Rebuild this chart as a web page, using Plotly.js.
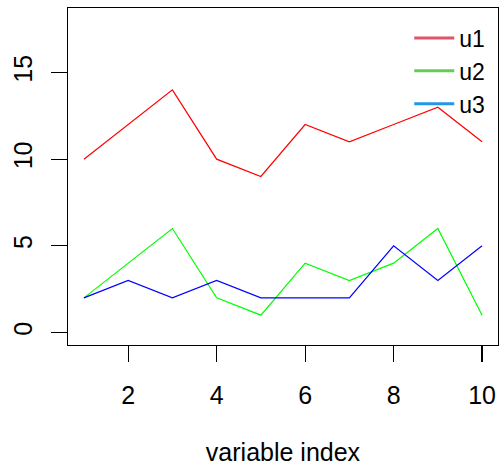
<!DOCTYPE html>
<html><head><meta charset="utf-8">
<script src="https://cdn.plot.ly/plotly-3.0.1.min.js"></script>
<style>html,body{margin:0;padding:0;background:#fff}#chart{width:499px;height:466px}</style>
</head><body><div id="chart"></div>
<script>
const xIndex = [1,2,3,4,5,6,7,8,9,10];
const u1 = [10,12,14,10,9,12,11,12,13,11];
const u2 = [2,4,6,2,1,4,3,4,6,1];
const u3 = [2,3,2,3,2,2,2,5,3,5];
const seriesNames = ['u1','u2','u3'];
const lineColors = ['#FF0000','#00FF00','#0000FF'];
const legendColors = ['#DF536B','#61D04F','#2297E6'];
const xTicks = [2,4,6,8,10];
const yTicks = [0,5,10,15];

const series = [u1,u2,u3];
const traces = [];
series.forEach((s,i)=>{
  traces.push({x:xIndex, y:s, type:'scatter', mode:'lines', line:{color:lineColors[i], width:1.2}, showlegend:false, hoverinfo:'skip'});
});
series.forEach((s,i)=>{
  traces.push({x:[null], y:[null], type:'scatter', mode:'lines', name:seriesNames[i], line:{color:legendColors[i], width:3}, showlegend:true});
});

const layout = {
  width:499, height:466,
  margin:{l:68, r:1, t:8, b:121},
  paper_bgcolor:'#fff', plot_bgcolor:'#fff',
  font:{family:'Liberation Sans, Arial, sans-serif', color:'#000', size:25},
  showlegend:true,
  legend:{x:0.982, xanchor:'right', y:0.975, yanchor:'top', bgcolor:'rgba(0,0,0,0)', font:{size:23}, tracegroupgap:0, itemwidth:40},
  xaxis:{range:[0.64,10.36], tickvals:xTicks, ticktext:xTicks.map(String), ticks:'outside', ticklen:16, tickwidth:1.2, tickcolor:'#000',
    showline:true, mirror:true, linecolor:'#000', linewidth:1.2, showgrid:false, zeroline:false,
    tickfont:{size:25}, ticklabelstandoff:12,
    title:{text:'variable index', font:{size:25}, standoff:39}},
  yaxis:{range:[-0.72,18.72], tickvals:yTicks, ticktext:yTicks.map(String), ticks:'outside', ticklen:16, tickwidth:1.2, tickcolor:'#000',
    showline:true, mirror:true, linecolor:'#000', linewidth:1.2, showgrid:false, zeroline:false,
    tickangle:-90, tickfont:{size:25}, ticklabelstandoff:9}
};
Plotly.newPlot('chart', traces, layout, {displayModeBar:false, staticPlot:true});
</script></body></html>
